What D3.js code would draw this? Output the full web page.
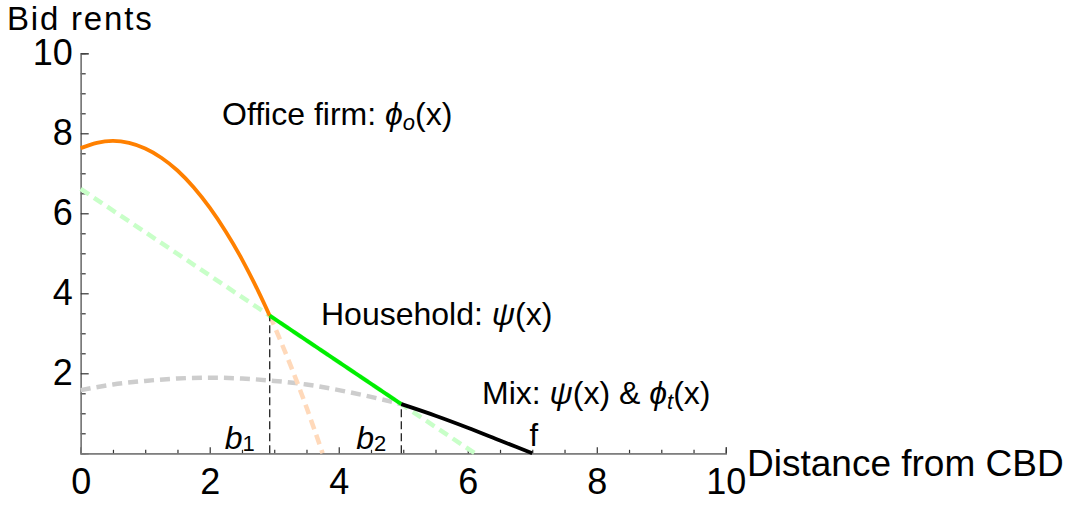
<!DOCTYPE html>
<html><head><meta charset="utf-8">
<script src="https://cdn.jsdelivr.net/npm/d3@7"></script>
<style>
body{margin:0;background:#fff;}
text{font-family:"Liberation Sans",Arial,sans-serif;fill:#000;}
</style></head>
<body><svg id="c" width="1078" height="507"></svg>
<script>
// ---- data ----
const officeX = [0,0.25,0.5,0.75,1.0,1.25,1.5,1.75,2.0,2.25,2.5,2.75,2.93,3.0,3.25,3.5,3.75];
const officeY = [7.63,7.76,7.81,7.76,7.62,7.39,7.07,6.65,6.14,5.54,4.85,4.06,3.44,3.19,2.21,1.15,0];
const houseX = [0,2.93,4.97,6.11];
const houseY = [6.61,3.44,1.23,0];
const techX = [0,0.5,1,1.5,2,2.5,3,3.5,4,4.5,4.97];
const techY = [1.58,1.72,1.81,1.87,1.89,1.87,1.81,1.72,1.58,1.41,1.23];
const mixX = [4.97,5.5,6,6.5,7];
const mixY = [1.23,0.94,0.64,0.32,0];
const b1 = 2.93, b2 = 4.97, fEdge = 7;
const xTicks = [0,2,4,6,8,10];
const yTicks = [2,4,6,8,10];

const svg = d3.select("#c");
const x = d3.scaleLinear().domain([0,10]).range([80.7,725.8]);
const y = d3.scaleLinear().domain([0,10]).range([453.3,53.3]);
const pts = (X,Y)=>X.map((v,i)=>[v,Y[i]]);
const line = d3.line().x(d=>x(d[0])).y(d=>y(d[1]));

// axes
const minorX = d3.range(0,10.01,0.5).filter(v=>!xTicks.includes(v));
const minorY = d3.range(0.5,10.01,0.5).filter(v=>!yTicks.includes(v));
function styleAxis(g){
  g.select(".domain").attr("stroke","#777").attr("stroke-width",1.3);
  g.selectAll(".tick line").attr("stroke","#333").attr("stroke-width",1.2);
  g.selectAll("text").style("font-size","36px").attr("fill","#000");
}
svg.append("g").attr("transform",`translate(0,${y(0)})`)
  .call(d3.axisBottom(x).tickValues(minorX).tickSize(-3.5).tickFormat("")).call(styleAxis);
svg.append("g").attr("transform",`translate(0,${y(0)})`)
  .call(d3.axisBottom(x).tickValues(xTicks).tickSize(-6).tickPadding(15).tickFormat(d3.format("d"))).call(styleAxis);
svg.append("g").attr("transform",`translate(${x(0)},0)`)
  .call(d3.axisLeft(y).tickValues(minorY).tickSize(-5).tickFormat("")).call(styleAxis);
svg.append("g").attr("transform",`translate(${x(0)},0)`)
  .call(d3.axisLeft(y).tickValues(yTicks).tickSize(-8).tickPadding(8).tickFormat(d3.format("d"))).call(styleAxis);

// background dashed curves
const office = pts(officeX,officeY);
const house = pts(houseX,houseY);
svg.append("path").attr("d",line.curve(d3.curveNatural)(pts(techX,techY)))
  .attr("fill","none").attr("stroke","#cdcdcd").attr("stroke-width",4.5).attr("stroke-dasharray","10,6");
svg.append("path").attr("d",line.curve(d3.curveLinear)(house))
  .attr("fill","none").attr("stroke","#c8ffc8").attr("stroke-width",4.5).attr("stroke-dasharray","10,6");
svg.append("path").attr("d",line.curve(d3.curveNatural)(office.filter(d=>d[0]>=b1)))
  .attr("fill","none").attr("stroke","#ffd9ba").attr("stroke-width",4.5).attr("stroke-dasharray","10,6");

// vertical dashed lines at b1, b2
[[b1,officeY[officeX.indexOf(b1)]],[b2,houseY[houseX.indexOf(b2)]]].forEach(([bx,by])=>{
  svg.append("line").attr("x1",x(bx)).attr("x2",x(bx)).attr("y1",y(0)).attr("y2",y(by))
    .attr("stroke","#222").attr("stroke-width",1.3).attr("stroke-dasharray","8,4");
});

// solid curves
svg.append("path").attr("d",line.curve(d3.curveNatural)(office.filter(d=>d[0]<=b1)))
  .attr("fill","none").attr("stroke","#ff8000").attr("stroke-width",3.8);
svg.append("path").attr("d",line.curve(d3.curveLinear)(house.filter(d=>d[0]>=b1&&d[0]<=b2)))
  .attr("fill","none").attr("stroke","#00ee00").attr("stroke-width",3.8);
svg.append("path").attr("d",line.curve(d3.curveMonotoneX)(pts(mixX,mixY)))
  .attr("fill","none").attr("stroke","#000").attr("stroke-width",3.8);

// axis titles
svg.append("text").attr("x",7).attr("y",30).style("font-size","33px").style("letter-spacing","1.8px").text("Bid rents");
svg.append("text").attr("x",747).attr("y",476).style("font-size","37px").text("Distance from CBD");

// annotations
function ann(tx,ty,parts){
  const t = svg.append("text").attr("x",tx).attr("y",ty).style("font-size","32px");
  parts.forEach(p=>{
    const s = t.append("tspan").text(p.t);
    if(p.i) s.style("font-style","italic");
    if(p.sub) s.style("font-size","22px").attr("dy",5);
    if(p.up) s.attr("dy",-5);
  });
}
ann(222,125,[{t:"Office firm: "},{t:"ϕ",i:1},{t:"o",i:1,sub:1},{t:"(x)",up:1}]);
ann(321,325,[{t:"Household: "},{t:"ψ",i:1},{t:"(x)"}]);
ann(482,404,[{t:"Mix: "},{t:"ψ",i:1},{t:"(x) & "},{t:"ϕ",i:1},{t:"t",i:1,sub:1},{t:"(x)",up:1}]);

// boundary labels
function blab(bx,sub){
  const t = svg.append("text").attr("x",x(bx)-15).attr("y",449).attr("text-anchor","end").style("font-size","32px");
  t.append("tspan").style("font-style","italic").text("b");
  t.append("tspan").style("font-size","22px").attr("dy",2).text(sub);
}
blab(b1,"1"); blab(b2,"2");
svg.append("text").attr("x",x(fEdge)+1.5).attr("y",446).attr("text-anchor","middle").style("font-size","31px").text("f");
</script></body></html>
